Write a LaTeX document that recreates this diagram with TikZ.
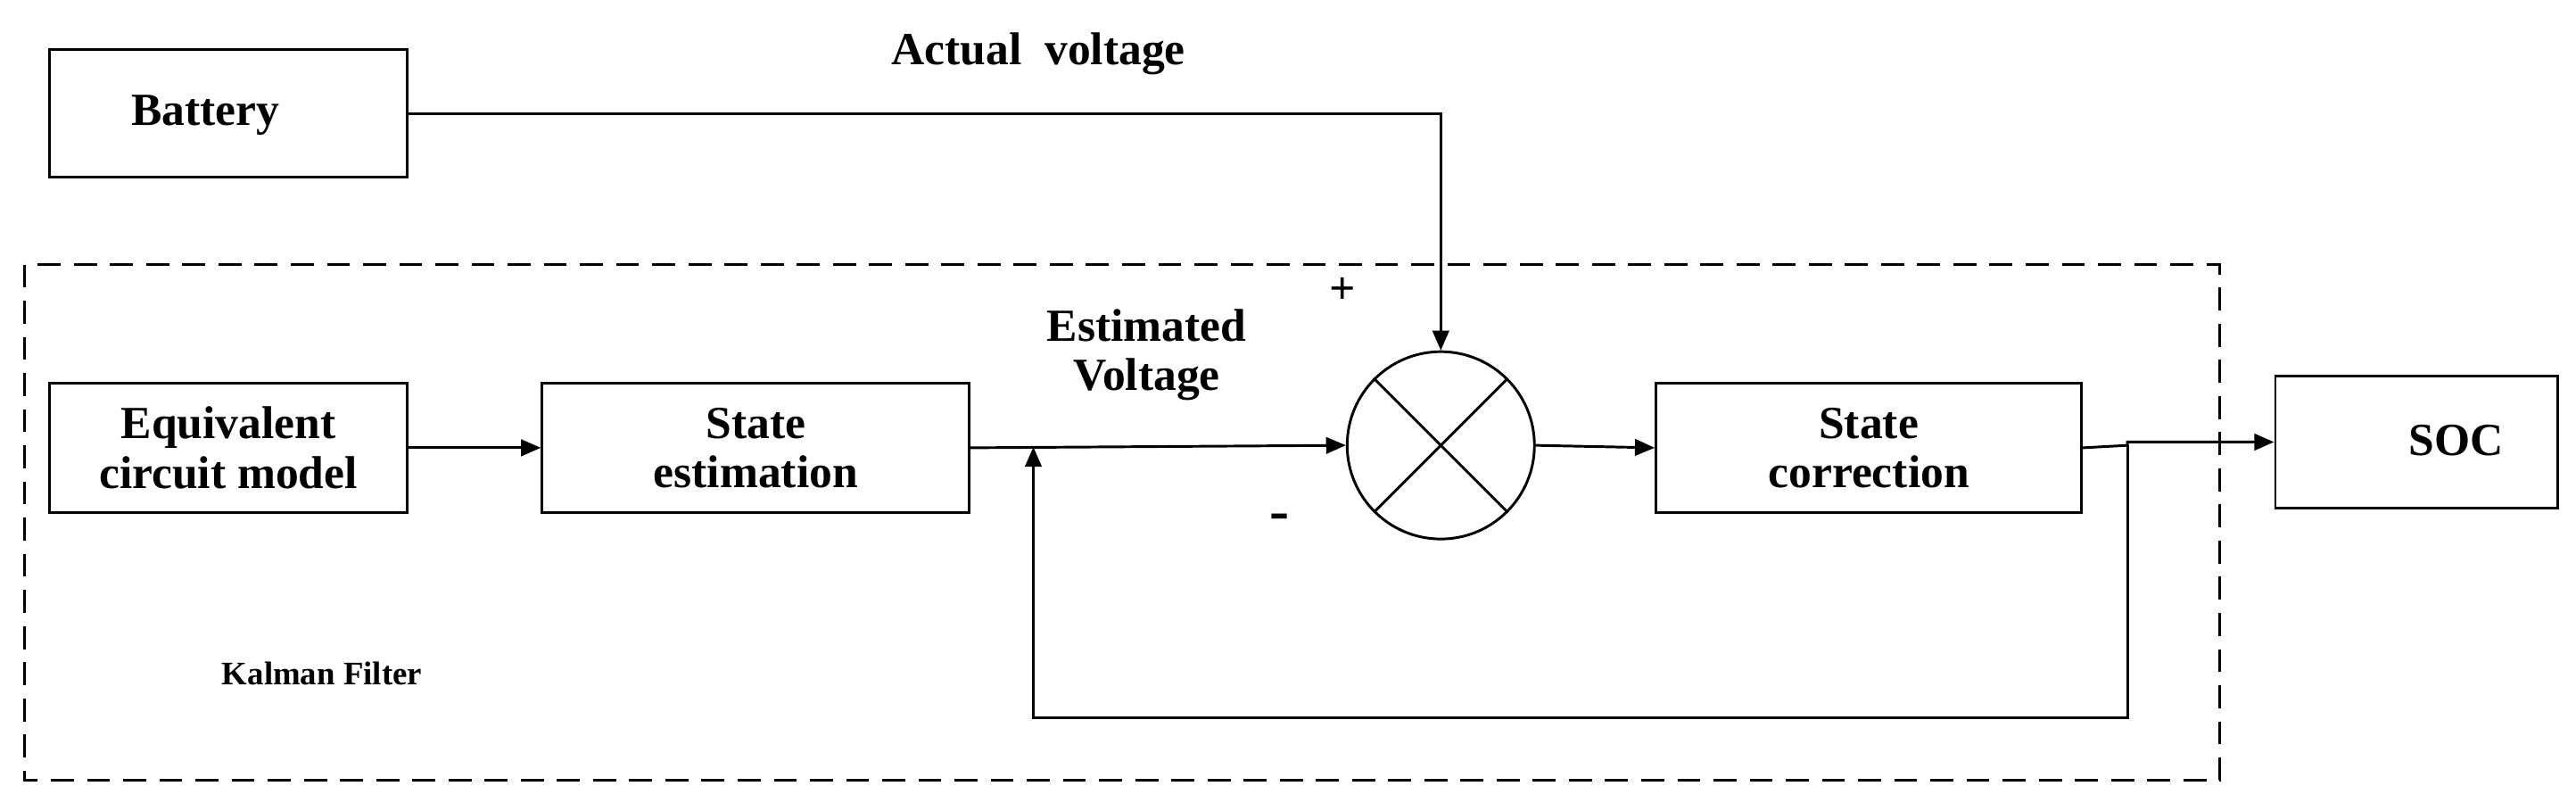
\documentclass[tikz,border=0pt]{standalone}
\usepackage{fontspec}
\setmainfont{Liberation Serif}
\usetikzlibrary{arrows.meta}
\begin{document}
\begin{tikzpicture}[x=0.5pt,y=-0.5pt,
 box/.style={draw,line width=0.8pt,inner sep=0pt,font=\bfseries\fontsize{14}{15}\selectfont,align=center},
 lab/.style={font=\bfseries\fontsize{14}{15}\selectfont,align=center,inner sep=0pt},
 ar/.style={line width=0.8pt,-{Triangle[length=6pt,width=5pt]}},
 ln/.style={line width=0.8pt}]
\useasboundingbox (0,0) rectangle (1568,493);
\draw[line width=0.8pt,dash pattern=on 7pt off 4pt] (15,161) rectangle (1351,475);
\node[box,minimum width=109pt,minimum height=39pt] (bat) at (139,69) {};
\node[lab] at (125,70) {Battery};
\node[box,minimum width=109pt,minimum height=39.5pt] (ecm) at (139,272.5) {Equivalent\\circuit model};
\node[box,minimum width=130pt,minimum height=39.5pt] (se) at (460,272.5) {State\\estimation};
\node[draw,line width=0.8pt,circle,minimum size=57pt,inner sep=0pt] (sum) at (877,271) {};
\draw[ln] (sum.north west)--(sum.south east) (sum.north east)--(sum.south west);
\node[box,minimum width=129.5pt,minimum height=39.5pt] (sc) at (1137.5,272.5) {State\\correction};
\node[box,minimum width=86pt,minimum height=40pt] (soc) at (1471,269) {};
\node[lab] at (1495,268) {SOC};
\node[lab] (av) at (632,33) {Actual\ \ voltage};
\node[lab] (ev) at (698,216) {Estimated\\Voltage};
\node[lab] at (817,177) {+};
\node[lab,font=\bfseries\fontsize{18}{18}\selectfont] at (779,318) {-};
\node[lab,font=\bfseries\fontsize{10}{11}\selectfont] at (196,410) {Kalman Filter};
\coordinate (j1) at (629,272);
\coordinate (j2) at (1295,271);
\draw[ar] (bat.east) -- (877,69) -- (sum.north);
\draw[ar] (ecm.east) -- (se.west);
\draw[ar] (se.east) -- (sum.west);
\draw[ar] (sum.east) -- (sc.west);
\draw[ar] (sc.east) -- (j2) |- (soc.west);
\draw[ar] (j2) -- (1295,437) -- (629,437) -- (j1);
\end{tikzpicture}
\end{document}
